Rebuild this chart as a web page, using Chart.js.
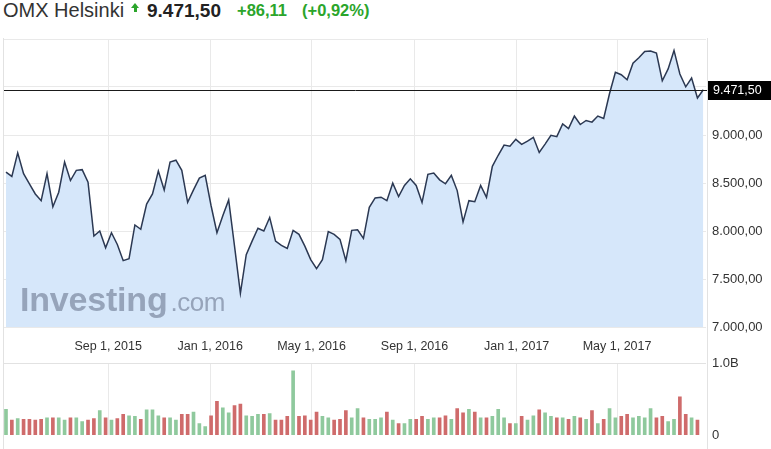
<!DOCTYPE html>
<html>
<head>
<meta charset="utf-8">
<title>OMX Helsinki</title>
<script src="https://cdn.jsdelivr.net/npm/chart.js@4.4.1/dist/chart.umd.min.js"></script>
<style>
  html, body { margin: 0; padding: 0; background: #fff; }
  body { width: 771px; height: 449px; position: relative; overflow: hidden; font-family: "Liberation Sans", Arial, sans-serif; }
  .hdr { position: absolute; top: 1px; line-height: 19px; white-space: nowrap; }
  #name { left: 3px; font-size: 20px; color: #333; }
  #arrow { position: absolute; left: 131px; top: 3px; }
  #arrow .tri { width: 0; height: 0; border-left: 4.5px solid transparent; border-right: 4.5px solid transparent; border-bottom: 5px solid #2ba52b; }
  #arrow .stem { width: 3px; height: 4px; margin-left: 3px; background: #2ba52b; }
  #last { left: 147px; font-size: 19px; font-weight: bold; color: #222; }
  #chg { left: 237px; font-size: 16.5px; font-weight: bold; color: #2ba52b; }
  #pct { left: 302px; font-size: 16.5px; font-weight: bold; color: #2ba52b; }
  canvas { position: absolute; left: 0; }
  #price { top: 0; }
  #vol { top: 340px; }
  #frame { position: absolute; left: 3px; top: 38px; width: 703px; height: 411px; border-left: 1px solid #e2e2e2; border-right: 1px solid #e2e2e2; pointer-events: none; }
  #wm { position: absolute; left: 20px; top: 282px; line-height: 34px; color: rgb(150,164,186); white-space: nowrap; }
  #wm b { font-size: 34px; letter-spacing: -0.2px; }
  #wm span { font-size: 26px; letter-spacing: -0.5px; margin-left: 3px; }
</style>
</head>
<body>
<div id="name" class="hdr"></div>
<div id="arrow"><div class="tri"></div><div class="stem"></div></div>
<div id="last" class="hdr"></div>
<div id="chg" class="hdr"></div>
<div id="pct" class="hdr"></div>

<canvas id="price" width="771" height="362"></canvas>
<canvas id="vol" width="771" height="109"></canvas>
<div id="frame"></div>
<div id="wm"><b>Investing</b><span>.com</span></div>

<script>
const indexName = 'OMX Helsinki';
const change = 86.11;
const changePct = 0.92;

// weekly closes, first week starting 2 May 2015
const firstWeek = '2015-05-02';
const closes = [
    8614, 8568, 8814, 8597, 8492, 8386, 8316, 8597, 8253, 8404,
    8719, 8526, 8632, 8639, 8509, 7947, 8000, 7825, 7982, 7860,
    7691, 7712, 8063, 8018, 8281, 8386, 8625, 8428, 8719, 8737,
    8632, 8298, 8428, 8551, 8579, 8263, 7982, 8158, 8323, 7842,
    7351, 7754, 7895, 8028, 8000, 8140, 7895, 7850, 7818, 8007,
    7965, 7842, 7702, 7607, 7702, 7993, 7965, 7913, 7691, 8007,
    8012, 7923, 8246, 8344, 8352, 8316, 8498, 8358, 8474, 8544,
    8474, 8298, 8590, 8604, 8533, 8492, 8579, 8421, 8095, 8316,
    8305, 8474, 8351, 8674, 8789, 8895, 8884, 8955, 8902, 8937,
    8976, 8818, 8905, 8997, 8983, 9116, 9067, 9197, 9109, 9151,
    9134, 9197, 9172, 9432, 9653, 9628, 9576, 9747, 9804, 9871,
    9874, 9853, 9565, 9688, 9881, 9635, 9502, 9593, 9385.39, 9471.50
];
// weekly volume, billions (last week not shown)
const volumes = [
    0.36, 0.21, 0.23, 0.22, 0.22, 0.21, 0.22, 0.24, 0.24, 0.24,
    0.21, 0.24, 0.24, 0.19, 0.21, 0.23, 0.34, 0.24, 0.21, 0.23,
    0.29, 0.27, 0.26, 0.22, 0.35, 0.35, 0.27, 0.24, 0.24, 0.21,
    0.29, 0.29, 0.32, 0.16, 0.12, 0.27, 0.47, 0.38, 0.31, 0.41,
    0.43, 0.27, 0.26, 0.29, 0.29, 0.30, 0.21, 0.21, 0.26, 0.89,
    0.26, 0.27, 0.21, 0.32, 0.26, 0.24, 0.21, 0.22, 0.34, 0.24,
    0.37, 0.24, 0.22, 0.22, 0.24, 0.32, 0.21, 0.16, 0.16, 0.22,
    0.22, 0.26, 0.22, 0.24, 0.24, 0.27, 0.22, 0.37, 0.31, 0.36,
    0.32, 0.24, 0.24, 0.26, 0.36, 0.24, 0.16, 0.16, 0.26, 0.21,
    0.27, 0.35, 0.31, 0.26, 0.24, 0.24, 0.22, 0.26, 0.24, 0.22,
    0.34, 0.16, 0.22, 0.37, 0.24, 0.26, 0.29, 0.24, 0.26, 0.24,
    0.37, 0.24, 0.26, 0.19, 0.22, 0.53, 0.29, 0.24, 0.21, null
];

const tickDates = ['2015-09-01', '2016-01-01', '2016-05-01', '2016-09-01', '2017-01-01', '2017-05-01'];
const tickLabels = ['Sep 1, 2015', 'Jan 1, 2016', 'May 1, 2016', 'Sep 1, 2016', 'Jan 1, 2017', 'May 1, 2017'];
const priceTicks = [7000, 7500, 8000, 8500, 9000];
const volTicks = [0, 1e9];
const volTickLabels = ['0', '1.0B'];

const lastClose = closes[closes.length - 1];

function fmt(v, d = 2) {
    const [i, f] = Math.abs(v).toFixed(d).split('.');
    return (v < 0 ? '-' : '') + i.replace(/\B(?=(\d{3})+(?!\d))/g, '.') + (f ? ',' + f : '');
}
const weekPos = d => (Date.parse(d) - Date.parse(firstWeek)) / (7 * 86400000);

document.getElementById('name').textContent = indexName;
document.getElementById('last').textContent = fmt(lastClose);
document.getElementById('chg').textContent = '+' + fmt(change);
document.getElementById('pct').textContent = '(+' + fmt(changePct) + '%)';

Chart.defaults.font.family = '"Liberation Sans", Arial, sans-serif';

const GRID = '#e9e9e9';
const UP = '#8fc99d';
const DOWN = '#cf6b6b';

// black line + box at last close
const lastLine = {
    id: 'lastLine',
    afterDatasetsDraw(chart) {
        const { ctx, chartArea, scales: { y } } = chart;
        const py = Math.round(y.getPixelForValue(lastClose)) + 0.5;
        ctx.save();
        ctx.strokeStyle = '#1a1a1a';
        ctx.lineWidth = 1;
        ctx.beginPath();
        ctx.moveTo(chartArea.left - 1, py);
        ctx.lineTo(chartArea.right + 2, py);
        ctx.stroke();
        ctx.fillStyle = '#000';
        ctx.fillRect(chartArea.right + 2, py - 9.5, 64, 19);
        ctx.fillStyle = '#fff';
        ctx.font = '12.5px "Liberation Sans", Arial, sans-serif';
        ctx.textBaseline = 'middle';
        ctx.fillText(fmt(lastClose), chartArea.right + 7, py + 0.5);
        ctx.restore();
    }
};

const xRange = { type: 'linear', min: -0.34, max: 119.46, bounds: 'data', offset: false };
const dateTicks = s => { s.ticks = tickDates.map(d => ({ value: weekPos(d) })); };

new Chart(document.getElementById('price'), {
    type: 'line',
    data: {
        datasets: [{
            data: closes.map((c, i) => ({ x: i, y: c })),
            borderColor: '#2b3852',
            borderWidth: 1.5,
            backgroundColor: '#d6e7fa',
            fill: 'start',
            pointRadius: 0,
            tension: 0,
        }]
    },
    options: {
        responsive: false,
        animation: false,
        events: [],
        layout: { padding: { top: 39, left: 4, right: 0, bottom: 0 } },
        plugins: { legend: { display: false }, tooltip: { enabled: false } },
        scales: {
            x: {
                ...xRange,
                afterBuildTicks: dateTicks,
                afterFit: s => { s.height = 35; },
                ticks: { autoSkip: false, maxRotation: 0, padding: 12, color: '#333', font: { size: 12.5 }, callback: (v, i) => tickLabels[i] },
                grid: { color: GRID, drawTicks: false },
                border: { display: false },
            },
            y: {
                position: 'right',
                min: 7000,
                max: 10000,
                afterFit: s => { s.width = 65; },
                ticks: { stepSize: 500, padding: 6, color: '#333', font: { size: 13 }, callback: v => priceTicks.includes(v) ? fmt(v) : '' },
                grid: { color: GRID, drawTicks: false },
                border: { display: false },
            }
        }
    },
    plugins: [lastLine]
});

new Chart(document.getElementById('vol'), {
    type: 'bar',
    data: {
        datasets: [{
            data: volumes.map((v, i) => ({ x: i, y: v == null ? null : v * 1e9 })),
            backgroundColor: closes.map((c, i) => (i === 0 || c >= closes[i - 1]) ? UP : DOWN),
            barThickness: 3,
            borderWidth: 0,
        }]
    },
    options: {
        responsive: false,
        animation: false,
        events: [],
        layout: { padding: { top: 23, left: 4, right: 0, bottom: 13 } },
        plugins: { legend: { display: false }, tooltip: { enabled: false } },
        scales: {
            x: {
                ...xRange,
                afterBuildTicks: dateTicks,
                afterFit: s => { s.height = 0; },
                ticks: { display: false },
                grid: { color: GRID, drawTicks: false, offset: false },
                border: { display: false },
            },
            y: {
                position: 'right',
                min: 0,
                max: 1e9,
                afterBuildTicks: s => { s.ticks = volTicks.map(v => ({ value: v })); },
                afterFit: s => { s.width = 65; },
                ticks: { padding: 6, color: '#333', font: { size: 13 }, callback: (v, i) => volTickLabels[i] },
                grid: { color: c => c.tick && c.tick.value === 1e9 ? '#e2e2e2' : 'rgba(0,0,0,0)', drawTicks: false },
                border: { display: false },
            }
        }
    }
});
</script>
</body>
</html>
